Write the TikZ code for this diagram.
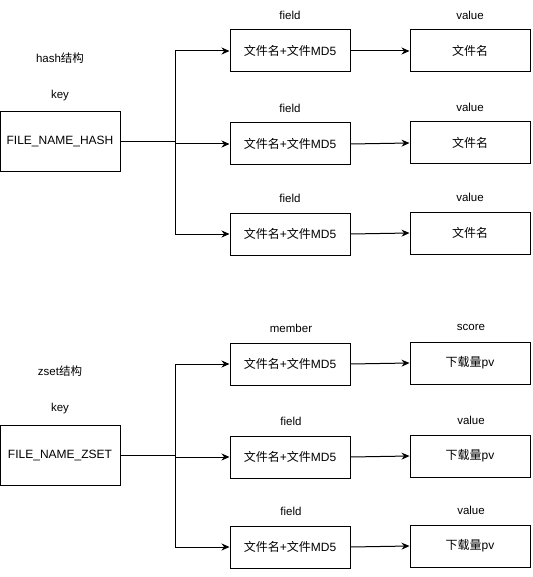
\documentclass[tikz,border=0pt]{standalone}
\usepackage{fontspec}
\setmainfont{Liberation Sans}
\newfontfamily\cjk{Noto Sans CJK SC}
\usetikzlibrary{arrows.meta}
\newcommand{\fieldtxt}{{\cjk 文件名}+{\cjk 文件}MD5}
\begin{document}
\begin{tikzpicture}[x=1pt,y=-1pt,
  box/.style={draw,line width=1pt,minimum width=120pt,minimum height=42pt,inner sep=0pt,font=\fontsize{12}{14}\selectfont},
  keybox/.style={box,minimum height=60pt},
  lbl/.style={inner sep=0pt,font=\fontsize{11.5}{14}\selectfont},
  arr/.style={line width=1pt,-{Stealth[length=8pt,width=7pt]}}]
\useasboundingbox (0,0) rectangle (532,577);
% ---------- hash ----------
\node[lbl] (t1) at (60,58) {hash{\cjk 结构}};
\node[lbl] (kl1) at (60,96) {key};
\node[keybox] (k1) at (60,142) {FILE\_NAME\_HASH};
\node[box] (f1) at (290,51) {\fieldtxt};
\node[box] (f2) at (290,144) {\fieldtxt};
\node[box] (f3) at (290,234) {\fieldtxt};
\node[box] (v1) at (470,51) {\cjk 文件名};
\node[box] (v2) at (470,143) {\cjk 文件名};
\node[box] (v3) at (470,233) {\cjk 文件名};
\node[lbl] (fl1) at (290,15) {field};
\node[lbl] (fl2) at (290,108) {field};
\node[lbl] (fl3) at (290,198) {field};
\node[lbl] (vl1) at (470,15) {value};
\node[lbl] (vl2) at (470,107) {value};
\node[lbl] (vl3) at (470,197) {value};
\coordinate (b1) at (175,142);
\draw[arr] (k1.east) -- (b1) |- (f1.west);
\draw[arr] (k1.east) -- (b1) |- (f2.west);
\draw[arr] (k1.east) -- (b1) |- (f3.west);
\draw[arr] (f1.east) -- (v1.west);
\draw[arr] (f2.east) -- (v2.west);
\draw[arr] (f3.east) -- (v3.west);
% ---------- zset ----------
\node[lbl] (t2) at (60,371) {zset{\cjk 结构}};
\node[lbl] (kl2) at (60,409) {key};
\node[keybox] (k2) at (60,455) {FILE\_NAME\_ZSET};
\node[box] (g1) at (290,364) {\fieldtxt};
\node[box] (g2) at (290,457) {\fieldtxt};
\node[box] (g3) at (290,547) {\fieldtxt};
\node[box] (w1) at (470,363) {{\cjk 下载量}pv};
\node[box] (w2) at (470,456) {{\cjk 下载量}pv};
\node[box] (w3) at (470,546) {{\cjk 下载量}pv};
\node[lbl] (gl1) at (291,328) {member};
\node[lbl] (gl2) at (291,421) {field};
\node[lbl] (gl3) at (291,511) {field};
\node[lbl] (wl1) at (471,327) {score};
\node[lbl] (wl2) at (471,420) {value};
\node[lbl] (wl3) at (471,510) {value};
\coordinate (b2) at (175,455);
\draw[arr] (k2.east) -- (b2) |- (g1.west);
\draw[arr] (k2.east) -- (b2) |- (g2.west);
\draw[arr] (k2.east) -- (b2) |- (g3.west);
\draw[arr] (g1.east) -- (w1.west);
\draw[arr] (g2.east) -- (w2.west);
\draw[arr] (g3.east) -- (w3.west);
\end{tikzpicture}
\end{document}
